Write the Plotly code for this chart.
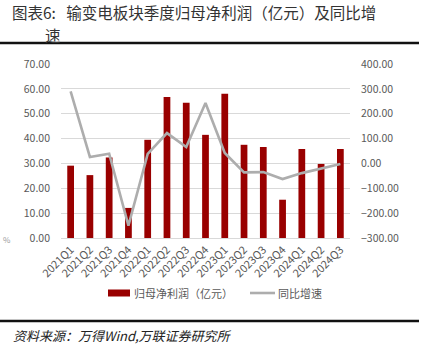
import plotly.graph_objects as go

quarters = ["2021Q1", "2021Q2", "2021Q3", "2021Q4", "2022Q1", "2022Q2", "2022Q3", "2022Q4",
            "2023Q1", "2023Q2", "2023Q3", "2023Q4", "2024Q1", "2024Q2", "2024Q3"]
net_profit = [29.1, 25.3, 32.4, 12.1, 39.5, 56.7, 54.4, 41.5, 58.0, 37.5, 36.6, 15.4, 35.8, 29.8, 35.8]
yoy_growth = [290.0, 26.0, 39.0, -250.0, 38.0, 122.0, 66.0, 243.0, 42.0, -36.0, -35.0, -63.0, -39.0, -21.0, -2.5]

left_ticks = [0, 10, 20, 30, 40, 50, 60, 70]
right_ticks = [-300, -200, -100, 0, 100, 200, 300, 400]

W, H = 425, 361
L, R, T, B = 61, 75, 64, 123
pw, ph = W - L - R, H - T - B

def px(x):
    return (x - L) / pw

def py(y):
    return (H - B - y) / ph

font_cjk = "Noto Sans CJK SC"
tick_col = "#595959"
bar_col = "#990000"
line_col = "#ADADAD"

fig = go.Figure()
fig.add_trace(go.Bar(
    x=quarters, y=net_profit, name="归母净利润（亿元）",
    marker=dict(color=bar_col, line=dict(width=0)), yaxis="y",
))
fig.add_trace(go.Scatter(
    x=quarters, y=yoy_growth, name="同比增速", mode="lines",
    line=dict(color=line_col, width=2.6), yaxis="y2",
))

fig.update_layout(
    width=W, height=H,
    margin=dict(l=L, r=R, t=T, b=B, pad=0, autoexpand=False),
    paper_bgcolor="white", plot_bgcolor="white",
    bargap=0.65,
    showlegend=False,
    font=dict(family=font_cjk, size=10, color=tick_col),
    xaxis=dict(
        tickangle=-45, showgrid=False, showline=True, linecolor="#D9D9D9", linewidth=1,
        ticks="", tickfont=dict(size=11, color=tick_col), automargin=False,
    ),
    yaxis=dict(
        range=[0, 70], tickvals=left_ticks, tickformat=".2f",
        showgrid=True, gridcolor="#D9D9D9", gridwidth=1, zeroline=False,
        showline=False, ticks="", ticklabelstandoff=10, automargin=False,
        tickfont=dict(size=10.5, color=tick_col),
    ),
    yaxis2=dict(
        range=[-300, 400], tickvals=right_ticks, tickformat=".2f", ticksuffix="%",
        overlaying="y", side="right", showgrid=False, zeroline=False, showline=False,
        ticks="", ticklabelstandoff=10, automargin=False,
        tickfont=dict(size=10.5, color=tick_col),
    ),
)

# Title (two lines, second indented)
fig.add_annotation(
    xref="paper", yref="paper", x=px(10), y=py(11.5), xanchor="left", yanchor="middle",
    text="图表6:   输变电板块季度归母净利润（亿元）及同比增", showarrow=False,
    font=dict(family=font_cjk, size=15.5, color="#333333"),
)
fig.add_annotation(
    xref="paper", yref="paper", x=px(43), y=py(34.5), xanchor="left", yanchor="middle",
    text="速", showarrow=False,
    font=dict(family=font_cjk, size=15.5, color="#333333"),
)
# Source
fig.add_annotation(
    xref="paper", yref="paper", x=px(11), y=py(335), xanchor="left", yanchor="middle",
    text="<i>资料来源：万得Wind,万联证券研究所</i>", showarrow=False,
    font=dict(family=font_cjk, size=13, color="#222222"),
)
# stray label at the left edge
fig.add_annotation(
    xref="paper", yref="paper", x=px(1), y=py(239), xanchor="left", yanchor="middle",
    text="%", showarrow=False, font=dict(family=font_cjk, size=8, color="#999999"),
)

# manual legend
fig.add_shape(type="rect", xref="paper", yref="paper", x0=px(108), x1=px(130), y0=py(296.5), y1=py(289.5),
              fillcolor=bar_col, line=dict(width=0))
fig.add_annotation(
    xref="paper", yref="paper", x=px(132), y=py(293), xanchor="left", yanchor="middle",
    text="归母净利润（亿元）", showarrow=False, font=dict(family=font_cjk, size=11, color=tick_col),
)
fig.add_shape(type="line", xref="paper", yref="paper", x0=px(250), x1=px(275), y0=py(293), y1=py(293),
              line=dict(color=line_col, width=2.6))
fig.add_annotation(
    xref="paper", yref="paper", x=px(276), y=py(293), xanchor="left", yanchor="middle",
    text="同比增速", showarrow=False, font=dict(family=font_cjk, size=11, color=tick_col),
)

# rule lines
fig.add_shape(type="line", xref="paper", yref="paper", x0=px(0), x1=px(419), y0=py(43), y1=py(43),
              line=dict(color="#111111", width=2.5))
fig.add_shape(type="line", xref="paper", yref="paper", x0=px(0), x1=px(419), y0=py(321), y1=py(321),
              line=dict(color="#111111", width=2.5))

fig.write_html(
    "out.html",
    config={"displayModeBar": False},
    post_script="document.body.style.margin='0';document.body.style.overflow='hidden';",
)
